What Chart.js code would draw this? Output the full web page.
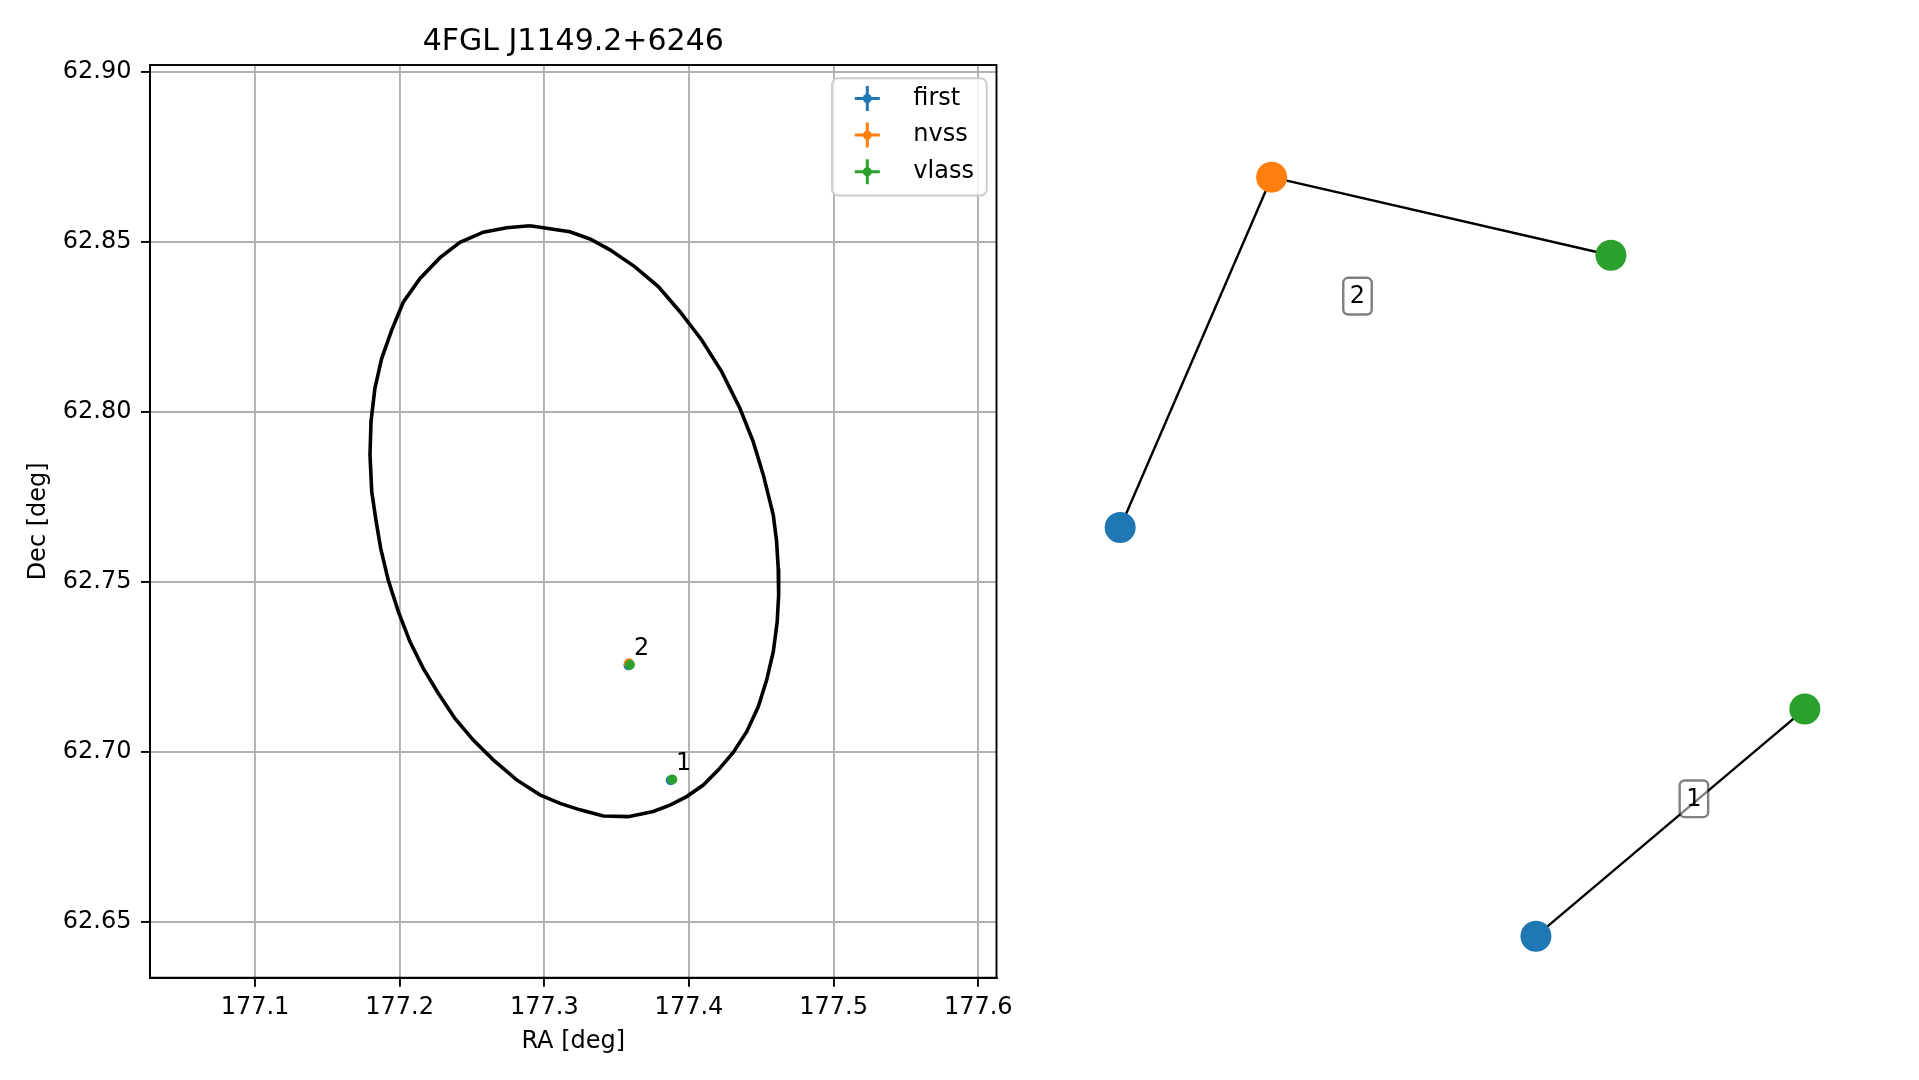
<!DOCTYPE html>
<html>
<head>
<meta charset="utf-8">
<script src="https://cdn.jsdelivr.net/npm/chart.js@4.4.1/dist/chart.umd.min.js"></script>
<style>
html,body{margin:0;padding:0;background:#fff;width:1919px;height:1080px;overflow:hidden;}
#left{position:absolute;left:0;top:0;width:1040px;height:1080px;}
#right{position:absolute;left:1040px;top:0;width:879px;height:1080px;}
canvas{display:block;}
</style>
</head>
<body>
<div id="left"><canvas id="c1" width="1040" height="1080"></canvas></div>
<div id="right"><canvas id="c2" width="879" height="1080"></canvas></div>
<script>
// ---------- left panel data ----------
const chartTitle = '4FGL J1149.2+6246';
const xLabel = 'RA [deg]';
const yLabel = 'Dec [deg]';
const raRange = [177.02742, 177.6126];
const decRange = [62.63353, 62.90197];
const raTickStep = 0.1;
const decTickStep = 0.05;

const surveys = ['first', 'nvss', 'vlass'];
const surveyColors = ['#1f77b4', '#ff7f0e', '#2ca02c'];

const firstRA = [177.3874, 177.3582];
const firstDec = [62.6916, 62.7254];
const nvssRA = [177.3585];
const nvssDec = [62.7260];
const vlassRA = [177.3885, 177.3592];
const vlassDec = [62.6918, 62.7256];

const groupNames = ['1', '2'];
const groupLabelRA = [177.3911, 177.3620];
const groupLabelDec = [62.6945, 62.7283];

const ellipseRA = [177.2901,177.3177,177.3316,177.3454,177.3627,177.3788,177.3938,177.4088,177.4226,177.4352,177.4444,177.4514,177.4583,177.4606,177.4617,177.4620,177.4610,177.4583,177.4537,177.4479,177.4399,177.4306,177.4202,177.4099,177.3984,177.3869,177.3753,177.3580,177.3408,177.3247,177.3108,177.2970,177.2809,177.2647,177.2509,177.2382,177.2267,177.2163,177.2071,177.1991,177.1921,177.1869,177.1836,177.1807,177.1795,177.1802,177.1829,177.1876,177.1945,177.2025,177.2141,177.2279,177.2417,177.2578,177.2740,177.2901];
const ellipseDec = [62.8547,62.8529,62.8508,62.8476,62.8426,62.8368,62.8294,62.8211,62.8118,62.8010,62.7912,62.7814,62.7696,62.7618,62.7539,62.7461,62.7382,62.7294,62.7211,62.7132,62.7059,62.6998,62.6946,62.6902,62.6868,62.6843,62.6824,62.6809,62.6811,62.6829,62.6848,62.6873,62.6917,62.6976,62.7034,62.7098,62.7172,62.7245,62.7324,62.7412,62.7505,62.7598,62.7681,62.7765,62.7873,62.7971,62.8069,62.8157,62.8240,62.8322,62.8392,62.8453,62.8498,62.8528,62.8541,62.8547];

// ---------- right panel (graph) data ----------
const nodeSurvey = ['first', 'nvss', 'vlass', 'first', 'vlass'];
const nodeX = [-0.895, -0.499, 0.388, 0.192, 0.895];
const nodeY = [0.072, 0.911, 0.724, -0.907, -0.363];
const edgeFrom = [0, 1, 3];
const edgeTo = [1, 2, 4];
const edgeLabelText = ['1', '2'];
const edgeLabelX = [0.605, -0.2745];
const edgeLabelY = [-0.578, 0.626];

Chart.defaults.font.family = "'DejaVu Sans', sans-serif";
Chart.defaults.color = '#000';

const pts = (xs, ys) => xs.map((x, i) => ({x: x, y: ys[i]}));
const seriesRA = [firstRA, nvssRA, vlassRA];
const seriesDec = [firstDec, nvssDec, vlassDec];

function roundRect(ctx, x, y, w, h, r) {
  ctx.beginPath();
  ctx.moveTo(x + r, y);
  ctx.lineTo(x + w - r, y);
  ctx.arcTo(x + w, y, x + w, y + r, r);
  ctx.lineTo(x + w, y + h - r);
  ctx.arcTo(x + w, y + h, x + w - r, y + h, r);
  ctx.lineTo(x + r, y + h);
  ctx.arcTo(x, y + h, x, y + h - r, r);
  ctx.lineTo(x, y + r);
  ctx.arcTo(x, y, x + r, y, r);
  ctx.closePath();
}

const framePlugin = {
  id: 'frameAndLegend',
  afterDraw(chart) {
    const ctx = chart.ctx, ca = chart.chartArea;
    const xs = chart.scales.x, ys = chart.scales.y;
    ctx.save();
    // annotations
    ctx.fillStyle = '#000';
    ctx.font = "24px 'DejaVu Sans'";
    ctx.textAlign = 'left';
    ctx.textBaseline = 'alphabetic';
    groupNames.forEach((t, i) => {
      ctx.fillText(t, xs.getPixelForValue(groupLabelRA[i]), ys.getPixelForValue(groupLabelDec[i]));
    });
    // spines
    ctx.strokeStyle = '#000';
    ctx.lineWidth = 1.9;
    ctx.strokeRect(ca.left, ca.top, ca.right - ca.left, ca.bottom - ca.top);
    // legend
    const w = 154.7, h = 117.2;
    const x0 = ca.right - 9.8 - w, y0 = ca.top + 13.3;
    roundRect(ctx, x0, y0, w, h, 6);
    ctx.fillStyle = 'rgba(255,255,255,0.8)';
    ctx.fill();
    ctx.strokeStyle = '#cccccc';
    ctx.lineWidth = 1.9;
    ctx.stroke();
    surveys.forEach((s, i) => {
      const cy = y0 + 20.2 + i * 36.6, cx = x0 + 35.3;
      ctx.strokeStyle = surveyColors[i];
      ctx.fillStyle = surveyColors[i];
      ctx.lineWidth = 3;
      ctx.beginPath();
      ctx.moveTo(cx - 12.5, cy); ctx.lineTo(cx + 12.5, cy);
      ctx.moveTo(cx, cy - 12.5); ctx.lineTo(cx, cy + 12.5);
      ctx.stroke();
      ctx.beginPath();
      ctx.arc(cx, cy, 4.5, 0, Math.PI * 2);
      ctx.fill();
      ctx.fillStyle = '#000';
      ctx.textBaseline = 'middle';
      ctx.fillText(s, x0 + 81.3, cy);
    });
    ctx.restore();
  }
};

const leftDatasets = [
  {
    label: 'ellipse', type: 'line', data: pts(ellipseRA, ellipseDec),
    borderColor: '#000', borderWidth: 3.6, pointRadius: 0, fill: false, tension: 0, order: 4
  }
].concat(surveys.map((s, i) => ({
  label: s, data: pts(seriesRA[i], seriesDec[i]),
  backgroundColor: surveyColors[i], borderColor: surveyColors[i],
  pointRadius: 5, borderWidth: 0, order: 3 - i
})));

new Chart(document.getElementById('c1'), {
  type: 'scatter',
  data: {datasets: leftDatasets},
  options: {
    responsive: false, animation: false, devicePixelRatio: 1, events: [],
    layout: {padding: {left: 0, top: 0, right: 43.5, bottom: 0}},
    plugins: {
      legend: {display: false},
      tooltip: {enabled: false},
      title: {
        display: true, text: chartTitle, fullSize: false, color: '#000',
        font: {size: 30, weight: 'normal'}, padding: {top: 24.5, bottom: 4.5}
      }
    },
    scales: {
      x: {
        type: 'linear', position: 'bottom', min: raRange[0], max: raRange[1],
        ticks: {stepSize: raTickStep, includeBounds: false, padding: 6.3, color: '#000',
          font: {size: 24}, maxRotation: 0, autoSkip: false, callback: v => v.toFixed(1)},
        grid: {color: '#b0b0b0', lineWidth: 1.9, tickLength: 9, tickColor: '#000', tickWidth: 1.9},
        border: {display: true, color: '#000', width: 1.9},
        title: {display: true, text: xLabel, color: '#000', font: {size: 24}, padding: {top: 0, bottom: 24}},
        afterFit: s => { s.height = 1080 - 977.7; }
      },
      y: {
        type: 'linear', position: 'left', min: decRange[0], max: decRange[1],
        ticks: {stepSize: decTickStep, includeBounds: false, padding: 9.5, color: '#000',
          font: {size: 24}, autoSkip: false, callback: v => v.toFixed(2)},
        grid: {color: '#b0b0b0', lineWidth: 1.9, tickLength: 9, tickColor: '#000', tickWidth: 1.9},
        border: {display: true, color: '#000', width: 1.9},
        title: {display: true, text: yLabel, color: '#000', font: {size: 24}, padding: {top: 23.9, bottom: 0}},
        afterFit: s => { s.width = 150; }
      }
    }
  },
  plugins: [framePlugin]
});

// ---------- right panel ----------
const edgeLabelPlugin = {
  id: 'edgeLabels',
  afterDatasetsDraw(chart) {
    const ctx = chart.ctx, xs = chart.scales.x, ys = chart.scales.y;
    ctx.save();
    edgeLabelText.forEach((t, i) => {
      const cx = xs.getPixelForValue(edgeLabelX[i]), cy = ys.getPixelForValue(edgeLabelY[i]);
      const w = 28.5, h = 36.7;
      roundRect(ctx, cx - w / 2, cy - h / 2, w, h, 5);
      ctx.fillStyle = 'rgba(255,255,255,0.5)';
      ctx.fill();
      ctx.strokeStyle = 'rgba(0,0,0,0.5)';
      ctx.lineWidth = 2.4;
      ctx.stroke();
      ctx.fillStyle = '#000';
      ctx.font = "24px 'DejaVu Sans'";
      ctx.textAlign = 'center';
      ctx.textBaseline = 'middle';
      ctx.fillText(t, cx, cy + 1);
    });
    ctx.restore();
  }
};

const edgeDatasets = edgeFrom.map((a, k) => ({
  label: 'edge' + k, type: 'line',
  data: [{x: nodeX[a], y: nodeY[a]}, {x: nodeX[edgeTo[k]], y: nodeY[edgeTo[k]]}],
  borderColor: '#000', borderWidth: 2.4, pointRadius: 0, fill: false, order: 10
}));
const nodeDatasets = surveys.map((s, i) => {
  const idx = nodeSurvey.map((v, j) => v === s ? j : -1).filter(j => j >= 0);
  return {
    label: s, data: idx.map(j => ({x: nodeX[j], y: nodeY[j]})),
    backgroundColor: surveyColors[i], borderColor: surveyColors[i],
    pointRadius: 15.5, borderWidth: 0, order: 1, clip: false
  };
});

new Chart(document.getElementById('c2'), {
  type: 'scatter',
  data: {datasets: edgeDatasets.concat(nodeDatasets)},
  options: {
    responsive: false, animation: false, devicePixelRatio: 1, events: [],
    layout: {padding: {left: 40, right: 74, top: 140, bottom: 105}},
    plugins: {legend: {display: false}, tooltip: {enabled: false}, title: {display: false}},
    scales: {
      x: {type: 'linear', display: false, min: -1, max: 1},
      y: {type: 'linear', display: false, min: -1, max: 1}
    }
  },
  plugins: [edgeLabelPlugin]
});
</script>
</body>
</html>
